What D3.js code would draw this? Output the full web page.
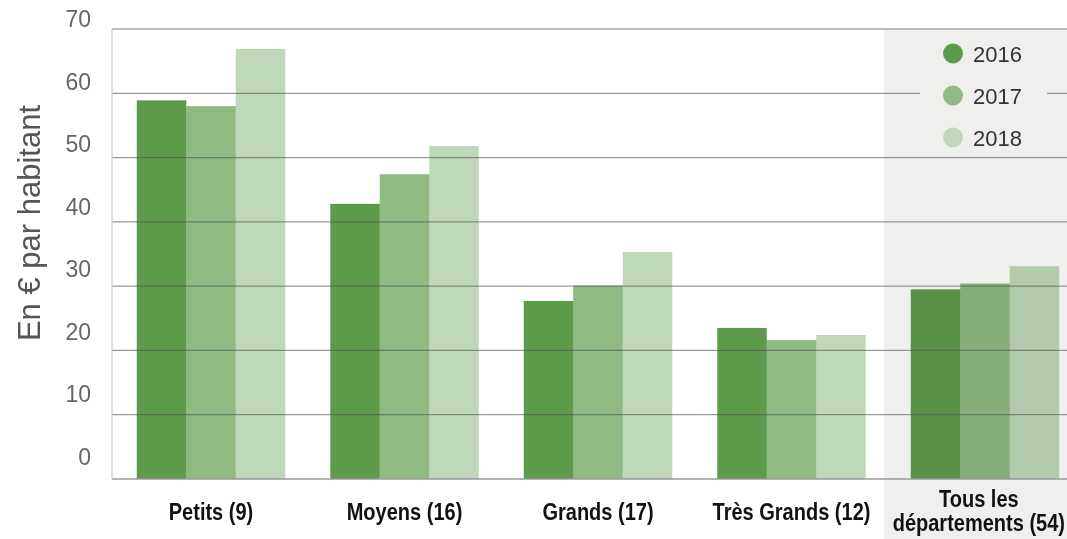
<!DOCTYPE html>
<html>
<head>
<meta charset="utf-8">
<script src="https://cdn.jsdelivr.net/npm/d3@7"></script>
<style>
  html, body { margin: 0; padding: 0; background: #fff; }
  svg { display: block; }
</style>
</head>
<body>
<svg id="chart" width="1067" height="539"></svg>
<script>
// ---- data ----
const categories = ["Petits (9)", "Moyens (16)", "Grands (17)", "Très Grands (12)", "Tous les départements (54)"];
const categoryLines = [["Petits (9)"], ["Moyens (16)"], ["Grands (17)"], ["Très Grands (12)"], ["Tous les", "départements (54)"]];
const seriesNames = ["2016", "2017", "2018"];
const values2016 = [58.9, 42.8, 27.7, 23.5, 29.5];
const values2017 = [58.0, 47.4, 30.1, 21.6, 30.4];
const values2018 = [66.9, 51.8, 35.3, 22.4, 33.1];
const yTicks = [0, 10, 20, 30, 40, 50, 60, 70];
const yTitle = "En € par habitant";
const colors = ["#5e9a4c", "#8fba82", "#c0d8ba"];

const seriesValues = [values2016, values2017, values2018];

const svg = d3.select("#chart");
const W = 1067, H = 539;

// ---- scales ----
const x = d3.scaleBand().domain(categories).range([114.25, 1081.75])
  .paddingInner(0.2326).paddingOuter(0.1163);
const xs = d3.scaleBand().domain(seriesNames).range([0, x.bandwidth()]).padding(0);
const y = d3.scaleLinear().domain([0, 70]).range([479, 29]);
const yLab = d3.scaleLinear().domain([0, 70]).range([465, 27]);

const plotL = 112, plotR = W;

// shaded "Tous" area
svg.append("rect").attr("x", 884).attr("y", y(70)).attr("width", W - 884).attr("height", H - y(70))
  .attr("fill", "#efefed");

// bars
const groups = svg.append("g").selectAll("g").data(categories).join("g")
  .attr("transform", d => `translate(${x(d)},0)`);
groups.selectAll("rect").data((c, ci) => seriesNames.map((s, si) => ({ s, si, v: seriesValues[si][ci] })))
  .join("rect")
  .attr("x", d => xs(d.s))
  .attr("width", xs.bandwidth())
  .attr("y", d => y(d.v))
  .attr("height", d => y(0) - y(d.v))
  .attr("fill", d => colors[d.si])
  .style("mix-blend-mode", "multiply");

// gridlines (on top of bars)
const grid = svg.append("g");
grid.selectAll("line").data(yTicks.filter(t => t > 0 && t < 70)).join("line")
  .attr("x1", plotL).attr("x2", plotR)
  .attr("y1", d => y(d)).attr("y2", d => y(d))
  .attr("stroke", "#555").attr("stroke-opacity", 0.6).attr("stroke-width", 1.3);

// top border, baseline, left axis
svg.append("line").attr("x1", plotL).attr("x2", plotR).attr("y1", y(70)).attr("y2", y(70))
  .attr("stroke", "#a8a8a8").attr("stroke-width", 1.5);
svg.append("line").attr("x1", plotL).attr("x2", plotR).attr("y1", y(0)).attr("y2", y(0))
  .attr("stroke", "#999").attr("stroke-width", 1.5);
svg.append("line").attr("x1", plotL).attr("x2", plotL).attr("y1", y(70)).attr("y2", y(0))
  .attr("stroke", "#cfcfcf").attr("stroke-width", 1.3);

// legend with its own background (interrupts gridline)
const leg = svg.append("g");
leg.append("rect").attr("x", 920).attr("y", 36).attr("width", 127).attr("height", 116).attr("fill", "#efefed");
const legItems = leg.selectAll("g").data(seriesNames).join("g")
  .attr("transform", (d, i) => `translate(953,${53.5 + i * 42})`);
legItems.append("circle").attr("r", 10).attr("fill", (d, i) => colors[i]);
legItems.append("text").attr("x", 20).attr("y", 8)
  .attr("font-family", "'Liberation Sans', Arial, sans-serif").attr("font-size", 22)
  .attr("fill", "#333").text(d => d);

// y tick labels
svg.append("g").selectAll("text").data(yTicks).join("text")
  .attr("x", 91).attr("y", d => yLab(d))
  .attr("text-anchor", "end")
  .attr("font-family", "'Liberation Sans', Arial, sans-serif").attr("font-size", 23)
  .attr("fill", "#666").text(d => d);

// y title
svg.append("text")
  .attr("transform", "translate(40,223) rotate(-90)")
  .attr("text-anchor", "middle")
  .attr("font-family", "'Liberation Sans', Arial, sans-serif").attr("font-size", 31)
  .attr("fill", "#555").text(yTitle);

// x labels (condensed bold: horizontally scaled)
const sx = 0.87;
const xl = svg.append("g").selectAll("g").data(categories).join("g");
xl.each(function(d, i) {
  const lines = categoryLines[i];
  const g = d3.select(this);
  const t = g.append("text")
    .attr("text-anchor", "middle")
    .attr("font-family", "'Liberation Sans', Arial, sans-serif")
    .attr("font-weight", "bold").attr("font-size", 23).attr("fill", "#111");
  const base = lines.length === 1 ? 520 : 507;
  t.selectAll("tspan").data(lines).join("tspan")
    .attr("x", 0).attr("y", (l, j) => base + j * 24).text(l => l);
  const half = t.node().getBBox().width * sx / 2;
  let cx = x(d) + x.bandwidth() / 2;
  cx = Math.min(cx, W - 2 - half);
  g.attr("transform", `translate(${cx},0) scale(${sx},1)`);
});
</script>
</body>
</html>
